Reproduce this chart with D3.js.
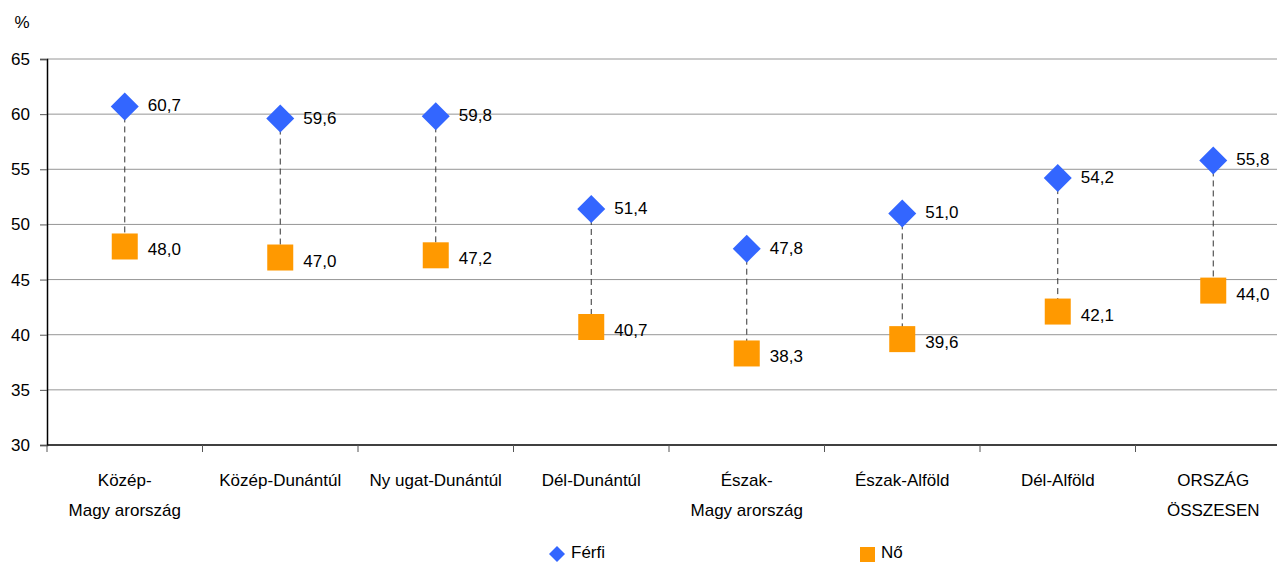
<!DOCTYPE html>
<html>
<head>
<meta charset="utf-8">
<script src="https://cdn.jsdelivr.net/npm/d3@7"></script>
<style>
  body { margin: 0; background: #fff; }
  svg { display: block; font-family: "Liberation Sans", Arial, sans-serif; }
</style>
</head>
<body>
<svg id="chart" width="1277" height="563"></svg>
<script>
const categories = [
  ['Közép-', 'Magy arország'],
  ['Közép-Dunántúl'],
  ['Ny ugat-Dunántúl'],
  ['Dél-Dunántúl'],
  ['Észak-', 'Magy arország'],
  ['Észak-Alföld'],
  ['Dél-Alföld'],
  ['ORSZÁG', 'ÖSSZESEN'],
];
const ferfi = [60.7, 59.6, 59.8, 51.4, 47.8, 51.0, 54.2, 55.8];
const no = [48.0, 47.0, 47.2, 40.7, 38.3, 39.6, 42.1, 44.0];
const yTicks = [30, 35, 40, 45, 50, 55, 60, 65];

const width = 1277;
const margin = { top: 59, left: 47, bottom: 445 };
const blue = '#3366ff';
const orange = '#ff9900';

const svg = d3.select('#chart');
const fmt = (v) => v.toFixed(1).replace('.', ',');

const idx = d3.range(categories.length);
const x = d3.scaleBand().domain(idx).range([margin.left, margin.left + 155.5 * 8]);
const y = d3.scaleLinear().domain([30, 65]).range([margin.bottom, margin.top]);
const cx = (i) => x(i) + x.bandwidth() / 2;

// gridlines
svg.append('g')
  .selectAll('line')
  .data(yTicks.filter((d) => d > 30))
  .join('line')
  .attr('x1', margin.left)
  .attr('x2', width)
  .attr('y1', (d) => y(d))
  .attr('y2', (d) => y(d))
  .attr('stroke', '#969696')
  .attr('stroke-width', 1);

// y axis
const yAxis = svg.append('g')
  .attr('transform', `translate(${margin.left},0)`)
  .call(d3.axisLeft(y).tickValues(yTicks).tickSize(7).tickPadding(10).tickFormat(d3.format('d')));
yAxis.select('.domain').attr('stroke', '#000').attr('stroke-width', 1.5);
yAxis.selectAll('.tick line').attr('stroke', '#555');
yAxis.selectAll('text').style('font-size', '17px').attr('fill', '#000');

// x axis
const xAxis = svg.append('g')
  .attr('transform', `translate(0,${margin.bottom})`);
xAxis.append('line')
  .attr('x1', margin.left).attr('x2', width)
  .attr('stroke', '#000').attr('stroke-width', 1.5);
xAxis.selectAll('line.tk')
  .data(idx)
  .join('line')
  .attr('class', 'tk')
  .attr('x1', (i) => x(i)).attr('x2', (i) => x(i))
  .attr('y1', 0).attr('y2', 7)
  .attr('stroke', '#555');
xAxis.selectAll('text')
  .data(idx)
  .join('text')
  .attr('text-anchor', 'middle')
  .attr('x', (i) => cx(i))
  .style('font-size', '17px')
  .attr('fill', '#000')
  .each(function (i) {
    d3.select(this).selectAll('tspan')
      .data(categories[i])
      .join('tspan')
      .attr('x', cx(i))
      .attr('y', (d, k) => 41 + k * 30)
      .text((d) => d);
  });

// % label
svg.append('text')
  .attr('x', 22).attr('y', 28)
  .attr('text-anchor', 'middle')
  .style('font-size', '17px')
  .text('%');

// dashed connectors
svg.append('g')
  .selectAll('line')
  .data(idx)
  .join('line')
  .attr('x1', (i) => cx(i)).attr('x2', (i) => cx(i))
  .attr('y1', (i) => y(ferfi[i]))
  .attr('y2', (i) => y(no[i]))
  .attr('stroke', '#333')
  .attr('stroke-width', 1)
  .attr('stroke-dasharray', '6,4');

// Nő squares
svg.append('g')
  .selectAll('rect')
  .data(idx)
  .join('rect')
  .attr('x', (i) => cx(i) - 13)
  .attr('y', (i) => y(no[i]) - 13)
  .attr('width', 26).attr('height', 26)
  .attr('fill', orange);

// Férfi diamonds
svg.append('g')
  .selectAll('path')
  .data(idx)
  .join('path')
  .attr('transform', (i) => `translate(${cx(i)},${y(ferfi[i])})`)
  .attr('d', 'M0,-14L14,0L0,14L-14,0Z')
  .attr('fill', blue);

// value labels
const labels = svg.append('g').style('font-size', '17px').attr('fill', '#000');
labels.selectAll('text.f')
  .data(idx)
  .join('text')
  .attr('class', 'f')
  .attr('x', (i) => cx(i) + 23)
  .attr('y', (i) => y(ferfi[i]) + 5)
  .text((i) => fmt(ferfi[i]));
labels.selectAll('text.n')
  .data(idx)
  .join('text')
  .attr('class', 'n')
  .attr('x', (i) => cx(i) + 23)
  .attr('y', (i) => y(no[i]) + 9)
  .text((i) => fmt(no[i]));

// legend
const legend = svg.append('g').style('font-size', '17px');
legend.append('path')
  .attr('transform', 'translate(557,554)')
  .attr('d', 'M0,-8L8,0L0,8L-8,0Z')
  .attr('fill', blue);
legend.append('text').attr('x', 571).attr('y', 558).text('Férfi');
legend.append('rect')
  .attr('x', 860).attr('y', 547).attr('width', 15).attr('height', 15)
  .attr('fill', orange);
legend.append('text').attr('x', 881).attr('y', 558).text('Nő');
</script>
</body>
</html>
